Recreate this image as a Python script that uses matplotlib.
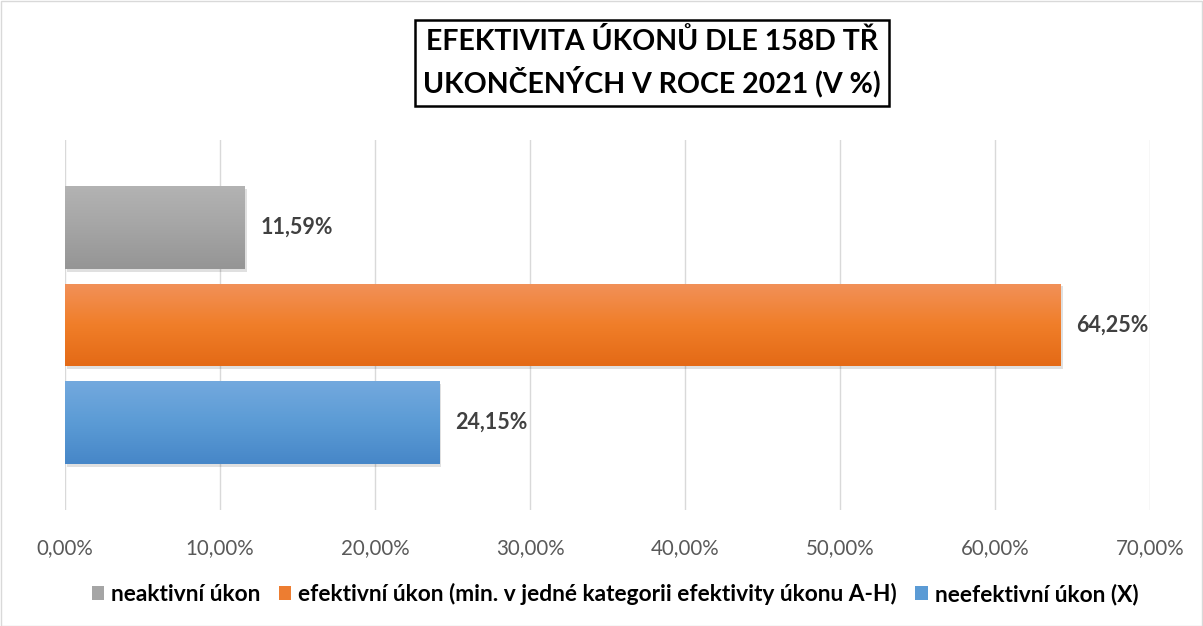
import matplotlib
matplotlib.use("Agg")
import matplotlib.pyplot as plt
import matplotlib.patheffects as pe
from matplotlib.patches import Rectangle
from matplotlib.colors import LinearSegmentedColormap
import numpy as np

plt.rcParams['font.family'] = ['Lato', 'DejaVu Sans']

series = ["neaktivní úkon",
          "efektivní úkon (min. v jedné kategorii efektivity úkonu A-H)",
          "neefektivní úkon (X)"]
values = [11.59, 64.25, 24.15]
value_labels = ["11,59%", "64,25%", "24,15%"]
xticks = [0, 10, 20, 30, 40, 50, 60, 70]
xtick_labels = ["0,00%", "10,00%", "20,00%", "30,00%", "40,00%", "50,00%", "60,00%", "70,00%"]
title = "EFEKTIVITA ÚKONŮ DLE 158D TŘ\nUKONČENÝCH V ROCE 2021 (V %)"

gradients = [["#b3b3b3", "#a5a5a5", "#959595"],
             ["#f29159", "#f07e29", "#e46a16"],
             ["#73a9de", "#5b9bd5", "#4787c8"]]
solid = ["#a5a5a5", "#ed7d31", "#5b9bd5"]

W, H = 1203, 626
fig = plt.figure(figsize=(W / 100, H / 100), dpi=100)
fig.patches.append(Rectangle((0.5 / W, 0.5 / H), 1 - 1.5 / W, 1 - 1.5 / H, transform=fig.transFigure,
                             fill=False, edgecolor="#d9d9d9", linewidth=1))

ax = fig.add_axes([65 / W, 1 - 510 / H, (1150 - 65) / W, (510 - 140) / H])
pos = np.arange(len(values))
bars = ax.barh(pos, values, height=0.85, color=solid, zorder=3,
               path_effects=[pe.SimplePatchShadow(offset=(1.5, -2), shadow_rgbFace="#000000", alpha=0.12), pe.Normal()])
for bar, grad in zip(bars, gradients):
    cmap = LinearSegmentedColormap.from_list("g", grad)
    x0, y0 = bar.get_x(), bar.get_y()
    w, h = bar.get_width(), bar.get_height()
    img = ax.imshow(np.linspace(0, 1, 100).reshape(-1, 1), cmap=cmap, aspect="auto",
                    extent=(x0, x0 + w, y0 + h, y0), zorder=4, origin="upper")
    img.set_clip_path(bar)

for p, v, lab in zip(pos, values, value_labels):
    ax.text(v + 1.0, p, lab, va="center", ha="left", fontsize=15.5, fontweight="bold", color="#404040", zorder=5)

ax.set_xlim(0, 70)
ax.set_ylim(2.9, -0.9)
ax.set_xticks(xticks)
ax.set_xticklabels(xtick_labels, fontsize=14.8, color="#595959")
ax.set_yticks([])
ax.tick_params(axis="x", length=0, pad=20)
ax.grid(axis="x", color="#d9d9d9", linewidth=1, zorder=0)
for s in ax.spines.values():
    s.set_visible(False)

fig.text(652 / W, 1 - 63 / H, title, ha="center", va="center", fontsize=20.5, fontweight="bold",
         color="black", linespacing=1.4,
         bbox=dict(boxstyle="square,pad=0.3", facecolor="white", edgecolor="black", linewidth=1.8))

handles = [Rectangle((0, 0), 1, 1, facecolor=c) for c in solid]
leg = fig.legend(handles, series, loc="center", bbox_to_anchor=(615 / W, 1 - 594 / H), ncol=3, frameon=False,
                 prop=dict(size=16.4, weight="bold"), handlelength=0.55, handleheight=0.55, handletextpad=0.3,
                 columnspacing=0.8)

fig.savefig("out.png", dpi=100)
